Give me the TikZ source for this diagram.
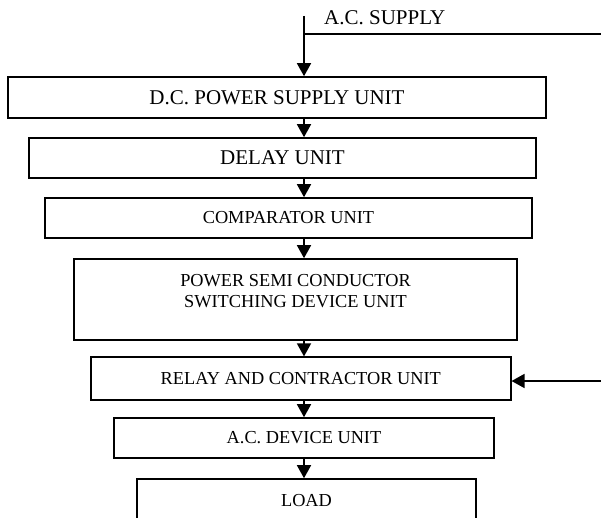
\documentclass[tikz,border=0pt]{standalone}
\usepackage{fontspec}
\setmainfont{Liberation Serif}
\usetikzlibrary{arrows.meta}
\tikzset{
  unitbox/.style={draw, line width=1.6pt, rectangle, inner sep=0pt, align=center},
  bigtxt/.style={font=\fontsize{21}{25}\selectfont},
  smalltxt/.style={font=\fontsize{18.3}{21}\selectfont},
  arr/.style={line width=1.6pt, -{Triangle[length=13pt,width=14pt]}},
  wire/.style={line width=1.6pt}
}
\begin{document}
\begin{tikzpicture}[x=1pt,y=-1pt]
\clip (0,0) rectangle (601,518);
\fill[white] (0,0) rectangle (601,518);
\coordinate (ax) at (304,0);
\node[unitbox,bigtxt,minimum width=538pt,minimum height=41pt] (dc) at (277,97.5) {D.C. POWER SUPPLY UNIT};
\node[unitbox,bigtxt,minimum width=507pt,minimum height=40pt] (delay) at (282.5,158) {DELAY UNIT};
\node[unitbox,smalltxt,minimum width=487pt,minimum height=40pt] (comp) at (288.5,218) {COMPARATOR UNIT};
\node[unitbox,smalltxt,minimum width=443pt,minimum height=81pt,text depth=18pt] (psc) at (295.5,299.5) {POWER SEMI CONDUCTOR\\SWITCHING DEVICE UNIT};
\node[unitbox,smalltxt,minimum width=420pt,minimum height=43pt] (relay) at (300.75,378.7) {RELAY AND CONTRACTOR UNIT};
\node[unitbox,smalltxt,minimum width=380pt,minimum height=40pt] (acdev) at (304,438) {A.C. DEVICE UNIT};
\node[unitbox,smalltxt,minimum width=339pt,minimum height=44pt] (load) at (306.5,501) {LOAD};
\node[bigtxt,anchor=west,inner sep=0pt] (acs) at (324,18) {A.C. SUPPLY};
\coordinate (acTop) at (304,16);
\coordinate (acJoin) at (304,34);
\coordinate (acRight) at (602,34);
\coordinate (fbIn) at (602,381);
\draw[arr] (acTop) -- (dc.north -| ax);
\draw[wire] (acJoin) -- (acRight);
\draw[arr] (dc.south -| ax) -- (delay.north -| ax);
\draw[arr] (delay.south -| ax) -- (comp.north -| ax);
\draw[arr] (comp.south -| ax) -- (psc.north -| ax);
\draw[arr] (psc.south -| ax) -- (relay.north -| ax);
\draw[arr] (relay.south -| ax) -- (acdev.north -| ax);
\draw[arr] (acdev.south -| ax) -- (load.north -| ax);
\draw[arr] (fbIn) -- (fbIn -| relay.east);
\end{tikzpicture}
\end{document}
